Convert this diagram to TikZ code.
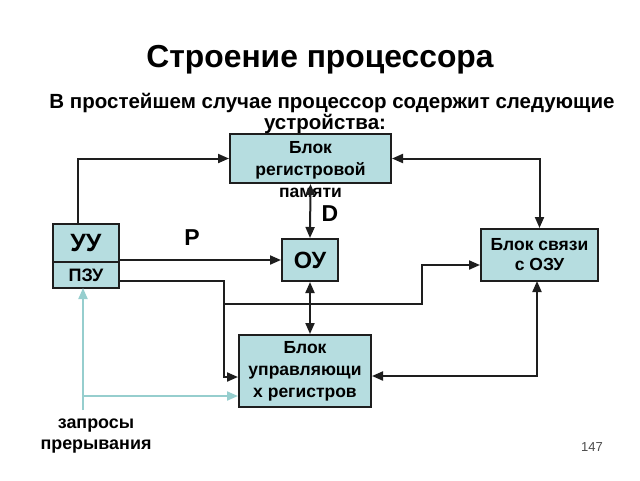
\documentclass[tikz,border=0pt]{standalone}
\usepackage{fontspec}
\setmainfont{Liberation Sans}
\usetikzlibrary{arrows.meta}
\definecolor{boxfill}{RGB}{182,221,224}
\definecolor{irq}{RGB}{150,206,206}
\definecolor{ln}{RGB}{30,30,30}
\begin{document}
\begin{tikzpicture}[x=1pt,y=-1pt,
  blk/.style={draw=ln,line width=2pt,fill=boxfill,inner sep=0pt,font=\bfseries},
  arr/.style={line width=2pt,draw=ln,-{Triangle[length=11pt,width=9pt]}},
  darr/.style={line width=2pt,draw=ln,{Triangle[length=11pt,width=9pt]}-{Triangle[length=11pt,width=9pt]}},
  barr/.style={line width=2pt,draw=irq,-{Triangle[length=11pt,width=9pt]}},
  lbl/.style={font=\bfseries,inner sep=0pt}]
\useasboundingbox (0,0) rectangle (640,480);
\node[lbl,font=\fontsize{31.8}{36}\selectfont\bfseries] (title) at (320,60) {Строение процессора};
\node[lbl,font=\fontsize{20.5}{24}\selectfont\bfseries] (sub1) at (332,103) {В простейшем случае процессор содержит следующие};
\node[lbl,font=\fontsize{20.5}{24}\selectfont\bfseries] (sub2) at (325,124) {устройства:};
% boxes
\node[blk,minimum width=161pt,minimum height=49pt] (rp) at (310.5,158.5) {};
\node[lbl,align=center,font=\fontsize{17.5}{22}\selectfont\bfseries] (rpt) at (310.5,170) {Блок\\регистровой\\памяти};
\node[blk,minimum width=56pt,minimum height=42pt,font=\fontsize{23.5}{26}\selectfont\bfseries] (ou) at (310,260) {ОУ};
\node[blk,minimum width=117pt,minimum height=52pt,align=center,font=\fontsize{17.5}{20}\selectfont\bfseries] (bs) at (539.5,255) {Блок связи\\с ОЗУ};
\node[blk,minimum width=66pt,minimum height=38pt,font=\fontsize{25}{28}\selectfont\bfseries] (uu) at (86,243) {УУ};
\node[blk,minimum width=66pt,minimum height=26pt,font=\fontsize{18}{20}\selectfont\bfseries] (pzu) at (86,275) {ПЗУ};
\node[blk,minimum width=132pt,minimum height=72pt,align=center,font=\fontsize{17.5}{22}\selectfont\bfseries] (bu) at (305,371) {Блок\\управляющи\\х регистров};
% labels
\node[lbl,font=\fontsize{23}{26}\selectfont\bfseries] (P) at (192,238) {P};
\node[lbl,font=\fontsize{23}{26}\selectfont\bfseries] (D) at (330,214) {D};
\node[lbl,align=center,font=\fontsize{17.9}{21}\selectfont\bfseries] (irqt) at (96,436) {запросы\\прерывания};
\node[inner sep=0pt,text=black!70,font=\fontsize{13}{15}\selectfont] (pg) at (592,447) {147};
% coordinates
\coordinate (c1) at (78,224);
\coordinate (c4) at (119,260);
\coordinate (c5) at (119,281);
\coordinate (c5a) at (224,281);
\coordinate (c5b) at (224,377);
\coordinate (c6) at (224,304);
\coordinate (c6a) at (422,304);
\coordinate (c6b) at (422,265);
\coordinate (c7) at (537,281);
\coordinate (c7a) at (537,376);
\coordinate (b0) at (83,410);
\coordinate (b1) at (83,288);
\coordinate (b2) at (83,396);
% connectors
\draw[arr] (c1) |- (rp.west);
\draw[darr] (rp.east) -| (bs.north);
\draw[darr] (rp.south) -- (ou.north);
\draw[arr] (c4) -- (c4 -| ou.west);
\draw[arr] (c5) -- (c5a) -- (c5b) -- (c5b -| bu.west);
\draw[arr] (c6) -- (c6a) -- (c6b) -- (c6b -| bs.west);
\draw[darr] (ou.south) -- (ou.south |- bu.north);
\draw[darr] (c7) -- (c7a) -- (c7a -| bu.east);
\draw[barr] (b0) -- (b1);
\draw[barr] (b2) -- (b2 -| bu.west);
\end{tikzpicture}
\end{document}
